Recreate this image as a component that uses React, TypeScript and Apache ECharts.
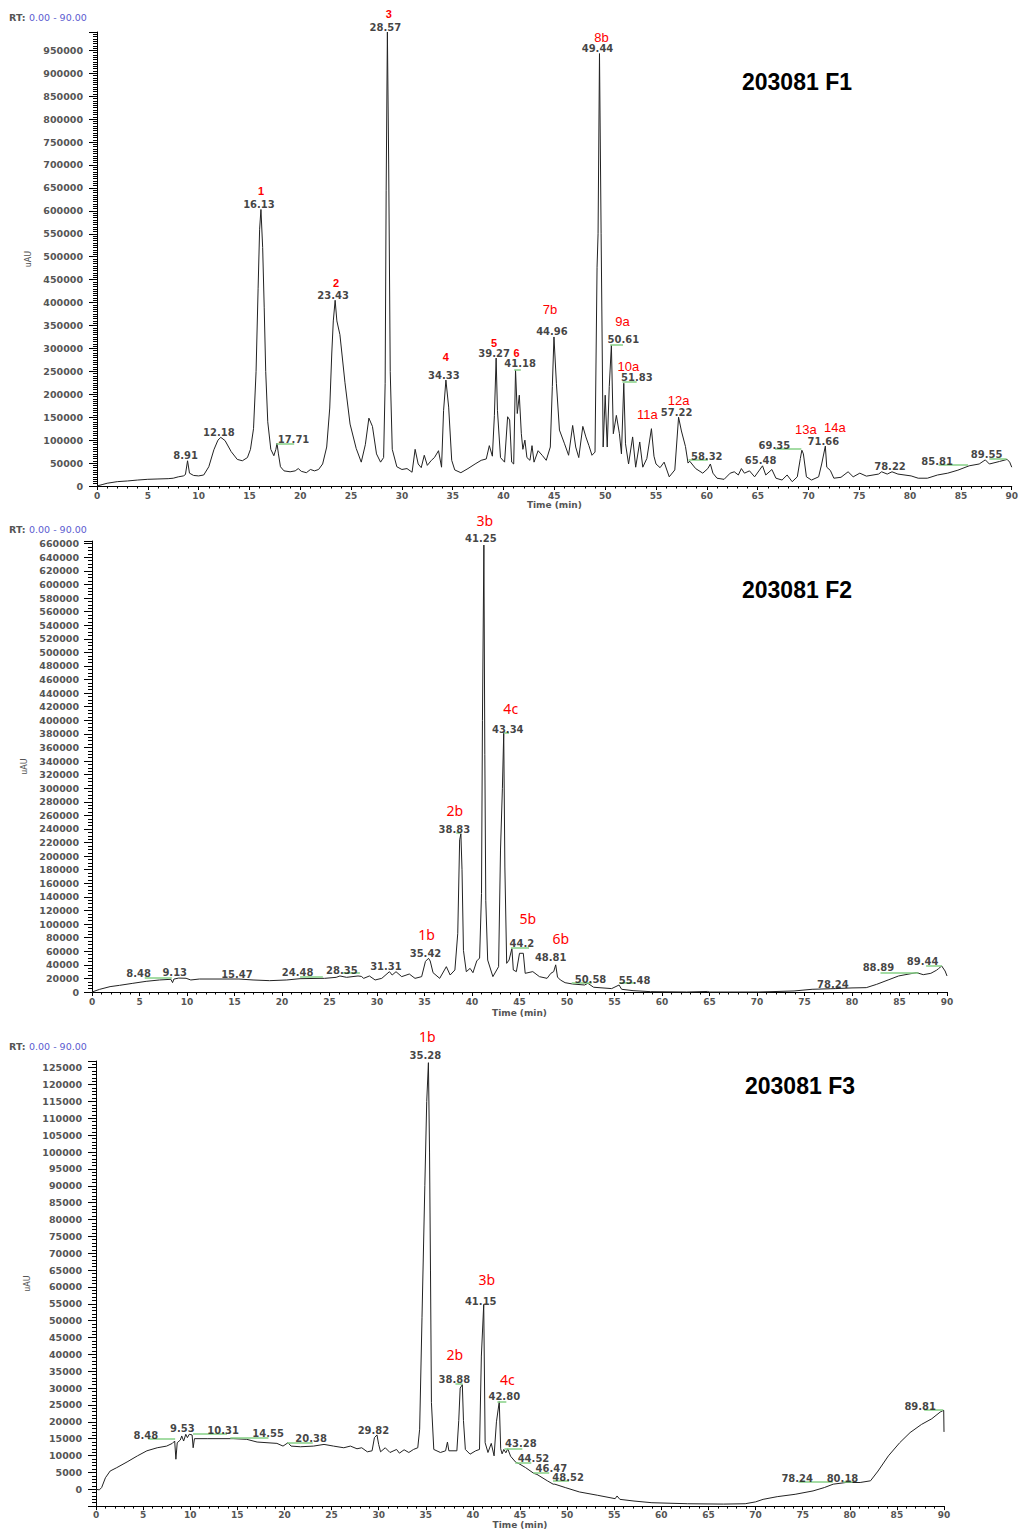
import React, { useEffect, useRef } from 'react';
import * as echarts from 'echarts';

type Pt = [number, number];

// ---- F1 chromatogram: [retention time (min), signal (uAU)] ----
const f1Trace: Pt[] = [
  [0, 0], [0.5, 3000], [1, 6000], [2, 9500], [3, 11000], [4, 13000], [5, 14600], [6, 15300], [7, 16000],
  [7.5, 17000], [8, 20000], [8.5, 22000], [8.7, 25000], [8.91, 55000], [9.1, 28000], [9.5, 23000], [10, 22000],
  [10.5, 24000], [11, 42000], [11.5, 79000], [11.9, 100000], [12.18, 106000], [12.6, 99000], [13.2, 75000],
  [13.8, 58000], [14.3, 55000], [14.8, 62000], [15.1, 80000], [15.4, 125000], [15.65, 250000], [15.85, 430000],
  [16.0, 560000], [16.13, 603000], [16.3, 520000], [16.45, 390000], [16.6, 250000], [16.8, 140000], [17.1, 80000],
  [17.4, 66000], [17.6, 80000], [17.71, 93000], [17.85, 70000], [18.05, 42000], [18.4, 33000], [19.0, 31000],
  [19.5, 33000], [19.8, 38000], [20.1, 32000], [20.6, 29000], [21.0, 36000], [21.4, 33000], [21.8, 36000],
  [22.2, 48000], [22.6, 85000], [22.9, 170000], [23.1, 290000], [23.25, 360000], [23.43, 405000], [23.6, 360000],
  [23.9, 330000], [24.4, 225000], [24.9, 135000], [25.5, 82000], [26.0, 52000], [26.4, 90000], [26.75, 148000],
  [27.1, 130000], [27.5, 70000], [27.9, 52000], [28.2, 62000], [28.35, 224000], [28.45, 645000], [28.57, 990000],
  [28.7, 700000], [28.85, 250000], [29.05, 80000], [29.5, 42000], [30.0, 36000], [30.5, 38000], [31.0, 30000],
  [31.3, 80000], [31.6, 48000], [31.9, 40000], [32.2, 67000], [32.5, 45000], [32.9, 56000], [33.2, 62000],
  [33.6, 77000], [33.9, 41000], [34.1, 165000], [34.33, 231000], [34.6, 172000], [34.9, 56000], [35.2, 35000],
  [35.8, 29000], [36.5, 38000], [37.2, 48000], [37.8, 56000], [38.3, 59000], [38.6, 88000], [38.9, 65000],
  [39.1, 154000], [39.27, 279000], [39.4, 165000], [39.7, 62000], [40.1, 52000], [40.4, 151000], [40.6, 144000],
  [40.8, 52000], [41.0, 48000], [41.18, 253000], [41.35, 158000], [41.55, 198000], [41.75, 114000], [41.9, 80000],
  [42.1, 100000], [42.3, 62000], [42.6, 56000], [42.8, 88000], [43.0, 52000], [43.4, 77000], [43.8, 67000],
  [44.2, 56000], [44.6, 85000], [44.8, 217000], [44.96, 325000], [45.2, 224000], [45.5, 122000], [46.0, 92000],
  [46.4, 67000], [46.8, 132000], [47.1, 85000], [47.4, 62000], [47.8, 130000], [48.1, 107000], [48.4, 88000],
  [48.7, 67000], [49.0, 74000], [49.2, 477000], [49.3, 550000], [49.44, 943000], [49.6, 550000], [49.8, 85000],
  [50.0, 198000], [50.2, 85000], [50.4, 217000], [50.61, 307000], [50.8, 114000], [51.1, 154000], [51.4, 114000],
  [51.6, 70000], [51.83, 224000], [52.0, 92000], [52.3, 48000], [52.7, 107000], [53.0, 41000], [53.4, 96000],
  [53.7, 41000], [54.1, 60000], [54.55, 125000], [54.8, 65000], [55.0, 48000], [55.4, 40000], [55.8, 52000],
  [56.3, 20000], [56.85, 35000], [57.22, 150000], [57.5, 120000], [57.9, 86000], [58.15, 50000], [58.32, 54000],
  [58.9, 38000], [59.6, 28000], [60.1, 38000], [60.35, 48000], [60.6, 28000], [61.0, 17000], [61.7, 14500],
  [62.3, 28000], [62.7, 31000], [63.1, 24000], [63.4, 38000], [63.7, 28000], [64.2, 33000], [64.7, 20000],
  [65.48, 44000], [65.8, 24000], [66.4, 36000], [66.8, 17000], [67.4, 13000], [67.9, 24000], [68.4, 9400],
  [68.9, 20000], [69.2, 60000], [69.35, 78000], [69.5, 70000], [69.8, 20000], [70.3, 13000], [71.0, 20000],
  [71.3, 48000], [71.66, 87000], [71.8, 41000], [72.15, 34000], [72.5, 17000], [73.2, 19000], [73.9, 31000],
  [74.4, 20000], [75.05, 28000], [75.7, 21500], [76.9, 26000], [77.2, 31000], [77.75, 26000], [78.22, 31000],
  [78.8, 26000], [80.1, 22000], [80.8, 17000], [81.7, 17000], [82.7, 24000], [83.7, 28000], [84.7, 34500],
  [85.81, 44000], [86.8, 48000], [87.4, 57000], [87.8, 48000], [88.8, 53500], [89.55, 58000], [89.8, 52000],
  [90, 41000],
];

// Retention-time labels: [text, apex signal]
const f1Peaks: [string, number][] = [
  ['8.91', 55000], ['12.18', 106000], ['16.13', 603000], ['17.71', 93000], ['23.43', 405000], ['28.57', 990000],
  ['34.33', 231000], ['39.27', 279000], ['41.18', 253000], ['44.96', 325000], ['49.44', 943000], ['50.61', 307000],
  ['51.83', 224000], ['57.22', 150000], ['58.32', 54000], ['65.48', 44000], ['69.35', 78000], ['71.66', 87000],
  ['78.22', 31000], ['85.81', 44000], ['89.55', 58000],
];

// Compound tags: [tag, retention time, apex signal]
const f1Tags: [string, number, number][] = [
  ['1', 16.13, 603000], ['2', 23.43, 405000], ['3', 28.57, 990000], ['4', 34.33, 231000], ['5', 39.27, 279000],
  ['6', 41.18, 253000], ['7b', 44.96, 325000], ['8b', 49.44, 943000], ['9a', 50.61, 307000], ['10a', 51.83, 224000],
  ['11a', 54.55, 125000], ['12a', 57.22, 150000], ['13a', 69.35, 78000], ['14a', 71.66, 87000],
];

// Integration baselines: [start, end, level]
const f1Baselines: [number, number, number][] = [
  [17.65, 19.4, 93000], [41.05, 41.7, 254000], [50.5, 51.75, 309000], [51.7, 53.1, 227000], [58.2, 60.1, 56700],
  [66.7, 69.3, 82000], [82.8, 85.7, 47000], [87.8, 89.5, 60000],
];

// ---- F2 chromatogram ----
const f2Trace: Pt[] = [
  [0, 0], [0.8, 3900], [1.9, 7900], [2.9, 9800], [4.3, 12800], [5.7, 15700], [7.1, 17700], [8.3, 18700],
  [8.48, 13800], [8.62, 19000], [9.13, 20500], [9.9, 20200], [10.4, 17700], [11.3, 19100], [15.47, 19100],
  [16.95, 17700], [18.7, 16700], [20.5, 17700], [21.9, 19600], [24.0, 20100], [24.48, 20100], [25.7, 21600],
  [26.1, 23600], [26.8, 21600], [28.0, 23600], [28.35, 23000], [28.6, 20100], [29.2, 23600], [29.8, 17700],
  [30.5, 20100], [31.31, 29900], [31.6, 25000], [32.0, 29900], [32.6, 22600], [33.4, 26500], [34.0, 20100],
  [34.7, 22600], [35.1, 45000], [35.42, 49600], [35.6, 45700], [35.9, 28400], [36.6, 20100], [37.3, 37300],
  [37.7, 25000], [38.2, 32400], [38.5, 86400], [38.7, 224000], [38.83, 233000], [38.95, 180000], [39.1, 61300],
  [39.4, 29900], [39.8, 34800], [40.1, 28400], [40.5, 45700], [40.8, 50000], [41.0, 145000], [41.1, 400000],
  [41.25, 658000], [41.35, 350000], [41.45, 135000], [41.65, 47000], [42.2, 22600], [42.8, 37300],
  [43.0, 209000], [43.2, 300000], [43.34, 381000], [43.46, 184000], [43.65, 42200], [43.9, 47000], [44.2, 64000],
  [44.35, 32400], [44.67, 30000], [45.0, 57000], [45.4, 57000], [45.6, 27500], [46.4, 30000], [47.1, 22600],
  [47.9, 20100], [48.3, 27500], [48.6, 30000], [48.81, 40000], [49.0, 22000], [49.3, 17700], [49.8, 13700],
  [50.58, 11800], [51.85, 10300], [52.2, 12800], [52.8, 7000], [54.7, 5000], [55.48, 10300], [55.75, 4000],
  [56.95, 2000], [58.8, 500], [62.6, 0], [64.8, 800], [65.0, 0], [70.2, 0], [73.9, 1500], [75.8, 4000],
  [77.7, 4800], [78.24, 5000], [80.0, 6000], [81.5, 6400], [82.6, 11300], [83.8, 17700], [84.9, 23600],
  [86.0, 26500], [86.8, 28500], [87.5, 25500], [88.3, 27500], [88.89, 32000], [89.1, 34300], [89.44, 38300],
  [89.8, 30900], [90, 23600],
];

const f2Peaks: [string, number][] = [
  ['8.48', 18600], ['9.13', 20500], ['15.47', 19100], ['24.48', 20100], ['28.35', 23000], ['31.31', 29900],
  ['35.42', 49600], ['38.83', 233000], ['41.25', 658000], ['43.34', 381000], ['44.2', 64000], ['48.81', 40000],
  ['50.58', 11800], ['55.48', 10300], ['78.24', 5000], ['88.89', 32000], ['89.44', 38300],
];

const f2Tags: [string, number, number][] = [
  ['1b', 35.42, 49600], ['2b', 38.83, 233000], ['3b', 41.25, 658000], ['4c', 43.34, 381000], ['5b', 44.2, 64000],
  ['6b', 48.81, 40000],
];

const f2Baselines: [number, number, number][] = [
  [5.55, 8.4, 20600], [21.9, 24.3, 22100], [26.4, 28.2, 28000], [38.35, 38.8, 234600], [43.35, 43.9, 381500],
  [44.1, 46.0, 64800], [50.5, 52.6, 13300], [55.5, 57.1, 13300], [83.0, 87.0, 28400], [87.8, 89.45, 38700],
];

// ---- F3 chromatogram ----
const f3Trace: Pt[] = [
  [0, 0], [0.35, -200], [0.6, 500], [1.0, 3400], [1.5, 5400], [2.2, 6400], [3.3, 8100], [4.4, 9900],
  [5.4, 11400], [6.5, 12300], [7.5, 12800], [8.1, 13600], [8.35, 14300], [8.48, 8900], [8.62, 13800],
  [8.95, 14600], [9.1, 15800], [9.3, 14300], [9.53, 16300], [9.7, 15300], [9.9, 16300], [10.2, 16100],
  [10.31, 12300], [10.45, 15000], [11.8, 15000], [14.55, 15000], [16.0, 14800], [17.1, 14000], [18.15, 13800],
  [19.2, 13600], [19.85, 12800], [20.38, 13800], [20.7, 12800], [21.7, 12600], [23.1, 12800], [24.2, 13300],
  [25.2, 12800], [26.3, 12300], [27.0, 12800], [27.7, 12000], [28.2, 12300], [28.8, 11100], [29.3, 11400],
  [29.55, 15300], [29.82, 16100], [30.0, 13300], [30.2, 11100], [30.7, 12300], [31.2, 10900], [31.9, 11800],
  [32.2, 10700], [32.7, 11700], [33.2, 10900], [33.7, 11800], [34.15, 12300], [34.35, 17800], [34.6, 51000],
  [34.9, 90000], [35.1, 115000], [35.28, 126500], [35.4, 100000], [35.5, 65000], [35.6, 25700], [35.85, 11800],
  [36.55, 10900], [37.1, 11400], [37.3, 14000], [37.45, 11400], [38.3, 11400], [38.5, 20400], [38.65, 30000],
  [38.88, 31000], [39.0, 20400], [39.2, 11800], [39.7, 10400], [40.3, 11400], [40.7, 11800], [40.9, 39500],
  [41.15, 54800], [41.3, 13800], [41.6, 10900], [41.95, 13600], [42.25, 9900], [42.5, 20000], [42.8, 26000],
  [42.95, 12000], [43.1, 10500], [43.28, 11800], [43.5, 10800], [43.7, 12000], [44.0, 9800], [44.52, 8100],
  [45.0, 7400], [45.6, 6400], [46.47, 4700], [46.8, 4400], [47.9, 2500], [48.52, 1500], [48.7, 1500],
  [49.8, 500], [51.3, -800], [53.25, -1800], [55.1, -2800], [55.3, -2000], [55.6, -3000], [57.1, -3500],
  [59.0, -4000], [62.8, -4300], [66.6, -4400], [68.9, -4300], [70.0, -3750], [70.8, -3000], [72.3, -2200],
  [74.2, -1500], [76.1, -500], [77.3, 500], [78.24, 1500], [79.6, 2000], [80.18, 2000], [81.1, 2000],
  [82.2, 2500], [83.0, 5400], [84.1, 9900], [85.3, 13800], [86.4, 16800], [87.6, 19200], [88.7, 20900],
  [89.6, 22900], [89.81, 23200], [89.97, 23400], [90, 17000],
];

const f3Peaks: [string, number][] = [
  ['8.48', 14300], ['9.53', 16300], ['10.31', 16100], ['14.55', 15000], ['20.38', 13800], ['29.82', 16100],
  ['35.28', 126500], ['38.88', 31000], ['41.15', 54800], ['42.80', 26000], ['43.28', 11800], ['44.52', 8100],
  ['46.47', 4700], ['48.52', 1500], ['78.24', 1500], ['80.18', 2000], ['89.81', 23200],
];

const f3Tags: [string, number, number][] = [
  ['1b', 35.28, 126500], ['2b', 38.88, 31000], ['3b', 41.15, 54800], ['4c', 42.8, 26000],
];

const f3Baselines: [number, number, number][] = [
  [5.55, 8.4, 15100], [10.3, 13.9, 16600], [14.25, 18.3, 15400], [20.3, 23.0, 13900], [38.15, 38.9, 31400],
  [42.6, 43.55, 26000], [43.35, 45.25, 12100], [44.5, 46.2, 8000], [46.4, 48.1, 5000], [48.5, 50.2, 2400],
  [74.55, 78.2, 2100], [79.3, 80.3, 2100], [87.9, 89.9, 23700],
];

// ---- label placement (label centre relative to the apex, px) ----
const f1PeakNudge: Record<string, [number, number]> = {
  '17.71': [16.5, -4], '41.18': [4.5, -6], '50.61': [12, -6], '51.83': [13, -5.5], '58.32': [17, -5],
  '69.35': [-27.5, -5], '85.81': [-32, -4], '89.55': [-20.5, -4.5],
};
const f1TagNudge: Record<string, [number, number]> = {
  '1': [0, -18], '2': [1, -17], '3': [1.5, -18], '4': [0, -23], '5': [-2, -15.5], '6': [1, -17],
  '7b': [-4, -27], '8b': [2, -16.5], '9a': [11, -24], '10a': [4.5, -16.5], '11a': [-4, -14], '12a': [0, -17],
  '13a': [4, -20.5], '14a': [9.5, -19],
};
const f2PeakNudge: Record<string, [number, number]> = {
  '8.48': [-34, -6], '9.13': [-4, -6], '15.47': [-2, -5], '24.48': [-27, -6], '28.35': [-19.5, -5.5],
  '31.31': [-3.5, -5], '35.42': [-3, -5], '38.83': [-6.5, -4], '41.25': [-3, -7], '43.34': [4, -3.5],
  '44.2': [10, -5], '48.81': [-5, -7], '50.58': [18, -4], '55.48': [15.5, -5], '78.24': [-2.5, -4.5],
  '88.89': [-58, -2.5], '89.44': [-19, -4.5],
};
const f2TagNudge: Record<string, [number, number]> = {
  '1b': [-2, -24], '2b': [-6, -23], '3b': [1, -25], '4c': [7, -25], '5b': [16, -30], '6b': [5, -26],
};
const f3PeakNudge: Record<string, [number, number]> = {
  '8.48': [-30, -6], '9.53': [-3.5, -6], '10.31': [30, -4.5], '14.55': [35, -5], '20.38': [23, -4.5],
  '29.82': [-3.5, -4], '35.28': [-3, -7.5], '38.88': [-8, -5], '41.15': [-3, -3], '42.80': [5, -5],
  '43.28': [17, -6], '44.52': [18, -3.5], '46.47': [17.5, -5], '48.52': [15, -7], '78.24': [-36, -6],
  '80.18': [-9, -4], '89.81': [-22, -5],
};
const f3TagNudge: Record<string, [number, number]> = {
  '1b': [-1, -26.5], '2b': [-7.5, -30], '3b': [3, -25], '4c': [8, -22],
};

const RED = '#ff0000';
const AXIS_TEXT = '#555';
const SANS = 'DejaVu Sans';

interface Panel {
  title: string;
  titleX: number;
  titleY: number;
  rtY: number;
  grid: { left: number; top: number; width: number; height: number };
  yMin: number;
  yMax: number;
  yStep: number;
  yTop: number;
  yMinor: number;
  yLabelMargin: number;
  xLabelMargin: number;
  xNameGap: number;
  trace: Pt[];
  peaks: [string, number][];
  tags: [string, number, number][];
  baselines: [number, number, number][];
  peakNudge: Record<string, [number, number]>;
  tagNudge: Record<string, [number, number]>;
  tagFont: (tag: string) => Record<string, unknown>;
}

const panels: Panel[] = [
  {
    title: '203081 F1', titleX: 742, titleY: 82, rtY: 17,
    grid: { left: 97, top: 32, width: 917, height: 454 },
    yMin: 0, yMax: 990000, yStep: 50000, yTop: 950000, yMinor: 10, yLabelMargin: 14,
    xLabelMargin: 5, xNameGap: 14,
    trace: f1Trace, peaks: f1Peaks, tags: f1Tags, baselines: f1Baselines,
    peakNudge: f1PeakNudge, tagNudge: f1TagNudge,
    tagFont: (tag) => tag.length === 1
      ? { fontSize: 11, fontWeight: 'bold', fontFamily: 'Liberation Sans' }
      : { fontSize: 13, fontWeight: 'normal', fontFamily: 'Liberation Sans' },
  },
  {
    title: '203081 F2', titleX: 742, titleY: 590, rtY: 529,
    grid: { left: 92, top: 541, width: 855, height: 451 },
    yMin: 0, yMax: 664000, yStep: 20000, yTop: 660000, yMinor: 4, yLabelMargin: 13,
    xLabelMargin: 5, xNameGap: 16,
    trace: f2Trace, peaks: f2Peaks, tags: f2Tags, baselines: f2Baselines,
    peakNudge: f2PeakNudge, tagNudge: f2TagNudge,
    tagFont: () => ({ fontSize: 14, fontWeight: 'normal', fontFamily: 'Noto Sans' }),
  },
  {
    title: '203081 F3', titleX: 745, titleY: 1086, rtY: 1046,
    grid: { left: 96, top: 1061, width: 848, height: 446 },
    yMin: -5000, yMax: 127000, yStep: 5000, yTop: 125000, yMinor: 5, yLabelMargin: 14,
    xLabelMargin: 4, xNameGap: 13,
    trace: f3Trace, peaks: f3Peaks, tags: f3Tags, baselines: f3Baselines,
    peakNudge: f3PeakNudge, tagNudge: f3TagNudge,
    tagFont: () => ({ fontSize: 14, fontWeight: 'normal', fontFamily: 'Noto Sans' }),
  },
];

const DEFAULT_NUDGE: [number, number] = [-2, -5];

function buildOption() {
  const black = { color: '#000', width: 1 };
  const grid = panels.map((p) => ({ ...p.grid }));

  const xAxis = panels.map((p, i) => ({
    type: 'value', gridIndex: i, min: 0, max: 90, interval: 5,
    axisLine: { show: true, onZero: false, lineStyle: black },
    axisTick: { show: true, length: 4, lineStyle: black },
    minorTick: { show: true, splitNumber: 5, length: 2.5, lineStyle: black },
    splitLine: { show: false },
    minorSplitLine: { show: false },
    axisLabel: { fontSize: 9, color: AXIS_TEXT, fontWeight: 'bold', fontFamily: SANS, margin: p.xLabelMargin },
    name: 'Time (min)', nameLocation: 'middle', nameGap: p.xNameGap,
    nameTextStyle: { fontSize: 9, color: AXIS_TEXT, fontWeight: 'bold', fontFamily: SANS },
  }));

  const yAxis = panels.map((p, i) => ({
    type: 'value', gridIndex: i, min: p.yMin, max: p.yMax, interval: p.yStep,
    axisLine: { show: true, onZero: false, lineStyle: black },
    axisTick: { show: true, length: 8, lineStyle: black },
    minorTick: { show: true, splitNumber: p.yMinor, length: 4, lineStyle: black },
    splitLine: { show: false },
    minorSplitLine: { show: false },
    axisLabel: {
      fontSize: 9.5, color: AXIS_TEXT, fontWeight: 'bold', fontFamily: SANS, margin: p.yLabelMargin,
      formatter: (v: number) => (v < 0 || v > p.yTop || Math.abs(v % p.yStep) > 1e-6 ? '' : String(v)),
    },
    name: 'uAU', nameLocation: 'middle', nameRotate: 90, nameGap: 60,
    nameTextStyle: { fontSize: 8, color: AXIS_TEXT, fontFamily: SANS },
  }));

  const series: any[] = [];
  panels.forEach((p, i) => {
    series.push({
      type: 'line', xAxisIndex: i, yAxisIndex: i, data: p.trace,
      showSymbol: false, symbol: 'none', silent: true, clip: false,
      lineStyle: { color: '#222', width: 1 }, z: 2,
    });
    series.push({
      type: 'lines', coordinateSystem: 'cartesian2d', xAxisIndex: i, yAxisIndex: i, silent: true,
      data: p.baselines.map(([a, b, v]) => ({ coords: [[a, v], [b, v]] })),
      lineStyle: { color: '#86d086', width: 1.5, opacity: 1, curveness: 0 }, z: 3,
    });
    series.push({
      type: 'scatter', xAxisIndex: i, yAxisIndex: i, symbolSize: 0, silent: true, z: 5,
      itemStyle: { color: 'transparent' },
      data: p.peaks.map(([txt, h]) => ({
        name: txt, value: [parseFloat(txt), h],
        label: { offset: p.peakNudge[txt] ?? DEFAULT_NUDGE },
      })),
      label: {
        show: true, position: 'inside', formatter: '{b}', fontSize: 10, fontWeight: 'bold',
        color: '#111', fontFamily: SANS,
      },
    });
    series.push({
      type: 'scatter', xAxisIndex: i, yAxisIndex: i, symbolSize: 0, silent: true, z: 6,
      itemStyle: { color: 'transparent' },
      data: p.tags.map(([tag, rt, h]) => ({
        name: tag, value: [rt, h],
        label: { offset: p.tagNudge[tag] ?? [0, -18], ...p.tagFont(tag) },
      })),
      label: { show: true, position: 'inside', formatter: '{b}', color: RED, opacity: 1 },
    });
  });

  const graphic: any[] = [];
  panels.forEach((p) => {
    graphic.push({
      type: 'text', x: 9, y: p.rtY, silent: true,
      style: {
        text: '{k|RT:} {v|0.00 - 90.00}', verticalAlign: 'middle', align: 'left',
        rich: {
          k: { fill: '#555', fontSize: 9.5, fontWeight: 'bold', fontFamily: SANS },
          v: { fill: '#5b5bd0', fontSize: 9.5, fontFamily: SANS },
        },
      },
    });
    graphic.push({
      type: 'text', x: p.titleX, y: p.titleY, silent: true,
      style: {
        text: p.title, fill: '#000', fontSize: 23, fontWeight: 'bold',
        fontFamily: 'Liberation Sans', align: 'left', verticalAlign: 'middle',
      },
    });
  });

  return { animation: false, backgroundColor: '#fff', grid, xAxis, yAxis, series, graphic };
}

export default function App() {
  const ref = useRef<HTMLDivElement>(null);
  useEffect(() => {
    if (!ref.current) return;
    const chart = echarts.init(ref.current, null, { renderer: 'svg' });
    chart.setOption(buildOption() as any);
    return () => chart.dispose();
  }, []);
  return (
    <div
      ref={ref}
      style={{ position: 'absolute', left: 0, top: 0, width: 1021, height: 1530, background: '#fff' }}
    />
  );
}
